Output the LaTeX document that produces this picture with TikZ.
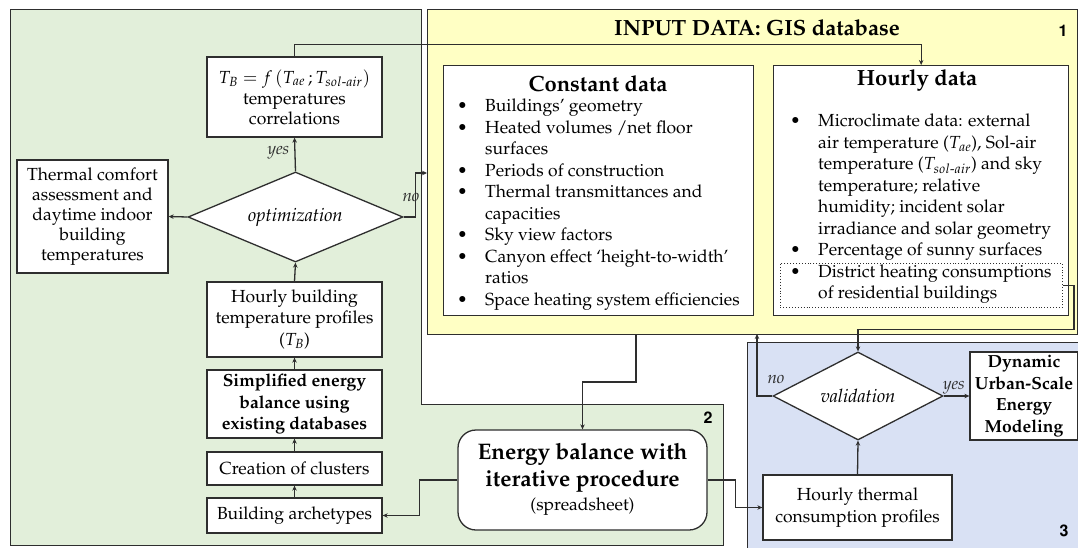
\documentclass[tikz,border=0pt]{standalone}
\usepackage[T1]{fontenc}
\usepackage{mathpazo}
\usepackage{amsmath}
\usetikzlibrary{arrows.meta,shapes.geometric,calc}
\definecolor{grn}{HTML}{E2EFDA}
\definecolor{ylw}{HTML}{FFFFC4}
\definecolor{blu}{HTML}{D9E1F4}
\definecolor{lnc}{HTML}{2E2E2E}
\newcommand\fnA{\fontsize{17.5}{21.5}\selectfont}
\newcommand\fnB{\fontsize{17.5}{20}\selectfont}
\newcommand\fnT{\fontsize{22}{26}\selectfont\bfseries}
\newcommand\fnI{\fontsize{18.5}{22}\selectfont\itshape}
\newcommand\fnL{\fontsize{17}{20}\selectfont\itshape}
\newcommand\fnN{\fontsize{16}{18}\fontfamily{phv}\selectfont\bfseries}
\begin{document}
\begin{tikzpicture}[x=1pt,y=-1pt,
  region/.style={draw=lnc, line width=1pt, inner sep=0pt, outer sep=0pt},
  box/.style={draw=lnc, line width=1.3pt, fill=white, align=center, inner sep=0pt, font=\fnA},
  dec/.style={draw=lnc, line width=1.3pt, fill=white, diamond, inner sep=0pt, aspect=2.4, font=\fnI},
  arr/.style={draw=lnc, line width=1.3pt, -{Stealth[length=5pt,width=4.5pt]}},
  lab/.style={font=\fnL, text=lnc, inner sep=1pt},
  num/.style={font=\fnN, text=black}
]
\useasboundingbox (0,0) rectangle (1078,548);
\fill[white] (0,0) rectangle (1078,548);
% ---------- regions
\filldraw[fill=grn, draw=lnc, line width=1pt] (10,10) -- (421,10) -- (421,404) -- (723,404) -- (723,545) -- (10,545) -- cycle;
\node[region, fill=ylw, minimum width=650pt, minimum height=324pt, anchor=north west] (inp) at (427,10) {};
\node[region, fill=blu, minimum width=345pt, minimum height=215pt, anchor=north west] (blue) at (747,342) {};
\node[font=\fnT] (title) at (757,28) {INPUT DATA: GIS database};
\node[num] (n1) at (1063,31) {1};
\node[num] (n2) at (708,418) {2};
\node[num] (n3) at (1064,531) {3};
% ---------- input data boxes
\node[box, minimum width=310pt, minimum height=250pt, anchor=north west] (cd) at (443,65) {};
\node[font=\fnT] (cdt) at (598,84) {Constant data};
\node[anchor=base west, inner sep=0pt, font=\fnA] (cdl) at (457,112) {\begin{tabular}[t]{@{}p{28pt}@{}l@{}}
\textbullet & Buildings' geometry\\
\textbullet & Heated volumes /net floor\\
 & surfaces\\
\textbullet & Periods of construction\\
\textbullet & Thermal transmittances and\\
 & capacities\\
\textbullet & Sky view factors\\
\textbullet & Canyon effect `height-to-width'\\
 & ratios\\
\textbullet & Space heating system efficiencies
\end{tabular}};
\node[box, minimum width=295pt, minimum height=250pt, anchor=north west] (hd) at (773,65) {};
\node[draw=lnc, dotted, line width=0.9pt, minimum width=282pt, minimum height=44pt, anchor=north west, inner sep=0pt] (dh) at (780,263) {};
\node[font=\fnT] (hdt) at (917,80) {Hourly data};
\node[anchor=base west, inner sep=0pt, font=\fnA] (hdl) at (790,127) {\begin{tabular}[t]{@{}p{28pt}@{}l@{}}
\textbullet & Microclimate data: external\\
 & air temperature ($T_{ae}$), Sol-air\\
 & temperature ($T_{sol\text{-}air}$) and sky\\
 & temperature; relative\\
 & humidity; incident solar\\
 & irradiance and solar geometry\\
\textbullet & Percentage of sunny surfaces\\
\textbullet & District heating consumptions\\
 & of residential buildings
\end{tabular}};
% ---------- left column
\node[box, font=\fnB, minimum width=175pt, minimum height=80pt] (tb) at (294.5,97) {$T_{B} = f\,(T_{ae}\,; T_{sol\text{-}air})$\\[1pt]temperatures\\correlations};
\node[box, font=\fnB, minimum width=151pt, minimum height=113pt] (tc) at (92.5,216.5) {Thermal comfort\\assessment and\\daytime indoor\\building\\temperatures};
\node[dec, minimum width=215pt, minimum height=90pt] (opt) at (295.5,217) {optimization};
\node[box, minimum width=175pt, minimum height=75pt] (hb) at (294.5,319.5) {Hourly building\\temperature profiles\\($T_B$)};
\node[box, font=\fnA\bfseries, minimum width=175pt, minimum height=68pt] (se) at (294.5,404) {Simplified energy\\balance using\\existing databases};
\node[box, minimum width=175pt, minimum height=33pt] (cc) at (294.5,468.5) {Creation of clusters};
\node[box, minimum width=175pt, minimum height=35pt] (ba) at (294.5,515.5) {Building archetypes};
% ---------- energy balance
\node[box, rounded corners=18pt, minimum width=249pt, minimum height=100pt, font=\fontsize{17.5}{27}\selectfont] (eb) at (582.5,480) {\begin{tabular}{@{}c@{}}\bfseries\fontsize{22.5}{27}\selectfont Energy balance with\\ \bfseries\fontsize{22.5}{27}\selectfont iterative procedure\\[-3pt] (spreadsheet)\end{tabular}};
% ---------- validation part
\node[box, minimum width=189pt, minimum height=65pt] (ht) at (857.5,507.5) {Hourly thermal\\consumption profiles};
\node[dec, minimum width=170pt, minimum height=88pt] (val) at (858,396) {validation};
\node[box, font=\fnA\bfseries, minimum width=108pt, minimum height=88pt] (dyn) at (1024,396) {Dynamic\\Urban-Scale\\Energy\\Modeling};
% ---------- connectors
\draw[arr] (ba.north) -- (cc.south);
\draw[arr] (cc.north) -- (se.south);
\draw[arr] (se.north) -- (hb.south);
\draw[arr] (hb.north) -- (opt.south);
\draw[arr] (opt.north) -- node[lab, left=4pt, pos=0.55] {yes} (tb.south);
\draw[arr] (opt.west) -- (tc.east);
\coordinate (noend) at (427,173);
\draw[arr] (opt.east) -- ++(12,0) |- (noend);
\node[lab] (nolab) at (411,197) {no};
\draw[arr] (tb.north) -- ++(0,-12) -| (hd.north);
\coordinate (cdout) at ($(inp.south)+(-116,0)$);
\draw[arr] (cdout) -- ++(0,48) -| (eb.north);
\draw[arr] (eb.west) -- ++(-38,0) |- (ba.east);
\draw[arr] (eb.east) -- ++(28,0) |- (ht.west);
\draw[arr] (ht.north) -- (val.south);
\coordinate (valno) at ($(inp.south)+(5,0)$);
\draw[arr] (val.west) -| (valno);
\node[lab] (nolab2) at (776,379) {no};
\draw[arr] (val.east) -- node[lab, above, pos=0.4] {yes} (dyn.west);
\draw[arr] (dh.east) -- ++(11,0) |- ($(val.north)+(0,-22)$) -- (val.north);
\end{tikzpicture}
\end{document}
